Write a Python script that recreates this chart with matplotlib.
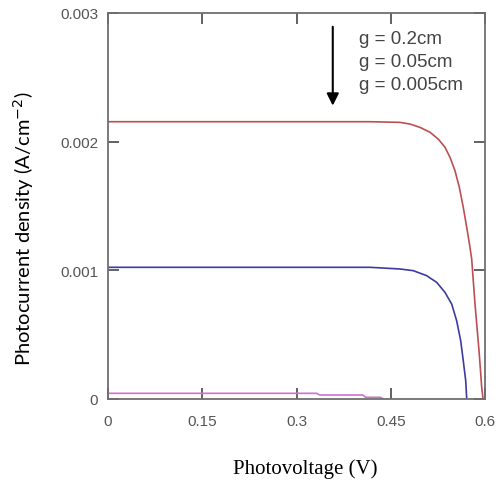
import matplotlib
matplotlib.use('Agg')
import matplotlib.pyplot as plt

# Photovoltage (V) and photocurrent density (A/cm^2)
v_02 = [0.0, 0.417, 0.4646, 0.4805, 0.4965, 0.5124, 0.5256, 0.5363, 0.5443, 0.5522, 0.5591,
        0.5654, 0.5709, 0.5761, 0.5788, 0.5841, 0.5909, 0.5947, 0.5968]
j_02 = [0.002154, 0.002154, 0.002149, 0.002136, 0.002110, 0.002072, 0.002019, 0.001955,
        0.001877, 0.001773, 0.001644, 0.001488, 0.001332, 0.001177, 0.001086, 0.000735,
        0.000346, 0.000089, 0.0]

v_005 = [0.0, 0.417, 0.4646, 0.4858, 0.5071, 0.5231, 0.5363, 0.5470, 0.5549, 0.5613,
         0.5654, 0.5693, 0.5709]
j_005 = [0.001021, 0.001021, 0.001008, 0.000995, 0.000956, 0.000904, 0.000826, 0.000735,
         0.000605, 0.000450, 0.000294, 0.000139, 0.0]

v_0005 = [0.0, 0.332, 0.337, 0.4057, 0.410, 0.433, 0.4375]
j_0005 = [0.0000405, 0.0000405, 0.0000272, 0.0000272, 0.0000093, 0.0000093, 0.0]

x_ticks = [0, 0.15, 0.3, 0.45, 0.6]
x_labels = ['0', '0.15', '0.3', '0.45', '0.6']
y_ticks = [0, 0.001, 0.002, 0.003]
y_labels = ['0', '0.001', '0.002', '0.003']
legend_lines = ['g = 0.2cm', 'g = 0.05cm', 'g = 0.005cm']

fig = plt.figure(figsize=(4.98, 4.81), dpi=100)
ax = fig.add_axes([0.2169, 0.1694, 0.757, 0.8015])

ax.plot(v_02, j_02, color='#bd4f52', linewidth=1.2)
ax.plot(v_005, j_005, color='#3c3ca0', linewidth=1.2)
ax.plot(v_0005, j_0005, color='#d070d0', linewidth=1.2)

ax.set_xlim(0, 0.6)
ax.set_ylim(0, 0.003)

# Ticks inside on all four sides
ax.set_xticks(x_ticks)
ax.set_xticklabels(x_labels, fontsize=11, color='#555555', family='Liberation Sans')
ax.set_yticks(y_ticks)
ax.set_yticklabels(y_labels, fontsize=11, color='#555555', family='Liberation Sans')
ax.tick_params(direction='in', length=8, width=1.3, color='#555555', top=True, right=True)
ax.tick_params(axis='x', pad=11)
ax.tick_params(axis='y', pad=7)

for s in ax.spines.values():
    s.set_color('#707070')
    s.set_linewidth(1.3)

ax.set_xlabel('Photovoltage (V)', fontsize=15, family='Liberation Serif')
ax.xaxis.set_label_coords(0.522, -0.155)
ax.set_ylabel('Photocurrent density (A/cm$^{-2}$)', fontsize=14.5, family='Lato')
ax.yaxis.set_label_coords(-0.19, 0.4436)

# Legend text and arrow
for i, txt in enumerate(legend_lines):
    ax.text(0.3998, 0.002805 - i * 0.000181, txt, fontsize=13.5, color='#444444',
            family='Liberation Sans', va='center', ha='left')
ax.annotate('', xy=(0.3577, 0.002279), xytext=(0.3577, 0.002893),
            arrowprops=dict(arrowstyle='-|>', color='black', lw=1.5, mutation_scale=18,
                            shrinkA=0, shrinkB=0))

plt.savefig('out.png', dpi=100)
plt.close()
